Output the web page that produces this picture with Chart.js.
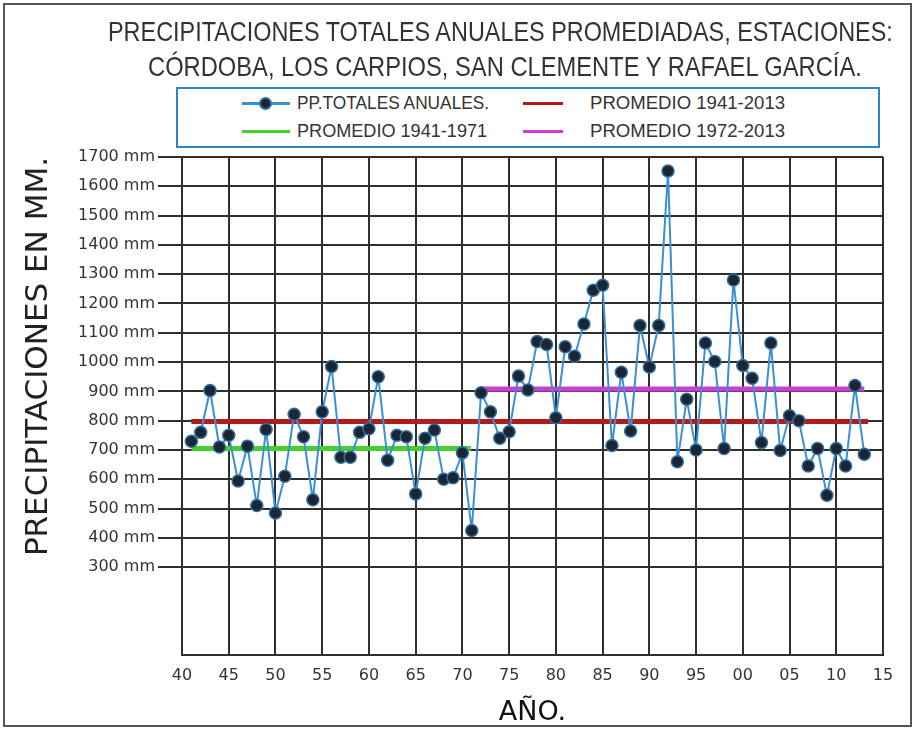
<!DOCTYPE html>
<html>
<head>
<meta charset="utf-8">
<script src="https://cdn.jsdelivr.net/npm/chart.js@4.4.1/dist/chart.umd.min.js"></script>
<style>
  html, body { margin: 0; padding: 0; background: #fff; }
  #wrap { position: relative; width: 915px; height: 729px; overflow: hidden; }
  #frame { position: absolute; left: 3px; top: 3px; width: 905px; height: 720px; border: 2px solid #555; }
  canvas { position: absolute; left: 0; top: 0; }
  .fit { position: absolute; white-space: nowrap; transform-origin: 0 50%; color: #333;
         font-family: "Liberation Sans", Arial, sans-serif; line-height: 1; }
  #legend { position: absolute; left: 176px; top: 87px; width: 700px; height: 57px;
            border: 2px solid #2f86c6; background: #fff; }
  .sw { position: absolute; height: 3px; }
  .dot { position: absolute; width: 9px; height: 9px; border-radius: 50%;
         background: #1b2632; border: 2px solid #2f6ea3; }
</style>
</head>
<body>
<div id="wrap">
  <div id="frame"></div>
  <canvas id="ppChart" width="915" height="729"></canvas>
  <div id="legend"></div>
</div>
<script>
// ── DATA ──
const years = [41, 42, 43, 44, 45, 46, 47, 48, 49, 50, 51, 52, 53, 54, 55, 56, 57, 58, 59, 60,
  61, 62, 63, 64, 65, 66, 67, 68, 69, 70, 71, 72, 73, 74, 75, 76, 77, 78, 79, 80,
  81, 82, 83, 84, 85, 86, 87, 88, 89, 90, 91, 92, 93, 94, 95, 96, 97, 98, 99, 100,
  101, 102, 103, 104, 105, 106, 107, 108, 109, 110, 111, 112, 113];
const precip = [730, 760, 903, 710, 750, 594, 713, 510, 770, 485, 610, 822, 745, 530, 830, 985, 675, 675, 760, 772,
  950, 665, 750, 745, 550, 740, 768, 600, 605, 690, 425, 895, 830, 740, 762, 952, 905, 1070, 1060, 810,
  1052, 1020, 1130, 1245, 1262, 715, 965, 765, 1125, 983, 1125, 1652, 660, 873, 700, 1065, 1002, 705, 1280, 988,
  945, 725, 1065, 698, 817, 800, 645, 705, 545, 705, 645, 920, 685];
const avgAll = 797;   // promedio 1941-2013
const avgEarly = 705; // promedio 1941-1971
const avgLate = 908;  // promedio 1972-2013
const xTickLabels = ['40', '45', '50', '55', '60', '65', '70', '75', '80', '85', '90', '95', '00', '05', '10', '15'];
const yTickValues = [300, 400, 500, 600, 700, 800, 900, 1000, 1100, 1200, 1300, 1400, 1500, 1600, 1700];

const wrap = document.getElementById('wrap');

// text squeezed to the width it has in the picture
function place(parent, text, left, cy, width, size, color) {
  const el = document.createElement('div');
  el.className = 'fit';
  el.textContent = text;
  el.style.fontSize = size + 'px';
  el.style.left = left + 'px';
  el.style.top = (cy - size / 2) + 'px';
  if (color) el.style.color = color;
  parent.appendChild(el);
  el.style.transform = 'scaleX(' + (width / el.offsetWidth) + ')';
}

place(wrap, 'PRECIPITACIONES TOTALES ANUALES PROMEDIADAS, ESTACIONES:', 108, 32, 785, 28, '#333');
place(wrap, 'CÓRDOBA, LOS CARPIOS, SAN CLEMENTE Y RAFAEL GARCÍA.', 148, 67, 714, 28, '#333');

// legend
const legend = document.getElementById('legend');
function swatch(left, width, cy, color) {
  const s = document.createElement('div');
  s.className = 'sw';
  s.style.left = left + 'px'; s.style.width = width + 'px';
  s.style.top = (cy - 1.5) + 'px'; s.style.background = color;
  legend.appendChild(s);
}
swatch(64, 48, 14, '#3b8fd4');
const dot = document.createElement('div');
dot.className = 'dot'; dot.style.left = '81px'; dot.style.top = '8px';
legend.appendChild(dot);
place(legend, 'PP.TOTALES ANUALES.', 119, 14, 192, 18);
swatch(345, 40, 14, '#b01c1c');
place(legend, 'PROMEDIO 1941-2013', 412, 14, 195, 18);
swatch(64, 48, 42, '#45d02e');
place(legend, 'PROMEDIO 1941-1971', 119, 42, 190, 18);
swatch(345, 40, 42, '#c93fcf');
place(legend, 'PROMEDIO 1972-2013', 412, 42, 195, 18);

// ── CHART ──
const seg = (v, a, b) => [{ x: a, y: v }, { x: b, y: v }];
const gridCol = '#2e2e2e';

new Chart(document.getElementById('ppChart').getContext('2d'), {
  type: 'line',
  data: {
    datasets: [
      {
        label: 'PP.TOTALES ANUALES.',
        data: years.map((yr, i) => ({ x: yr, y: precip[i] })),
        borderColor: '#3b8fd4',
        borderWidth: 2,
        pointRadius: 6,
        pointBackgroundColor: '#1b2632',
        pointBorderColor: '#2f6ea3',
        pointBorderWidth: 1.5,
        tension: 0,
      },
      { label: 'PROMEDIO 1941-2013', data: seg(avgAll, 41, 113.4), borderColor: '#b01c1c', borderWidth: 5, pointRadius: 0 },
      { label: 'PROMEDIO 1941-1971', data: seg(avgEarly, 41, 70.9), borderColor: '#45d02e', borderWidth: 5, pointRadius: 0 },
      { label: 'PROMEDIO 1972-2013', data: seg(avgLate, 72, 113), borderColor: '#c93fcf', borderWidth: 5, pointRadius: 0 },
    ],
  },
  options: {
    responsive: false,
    animation: false,
    layout: { padding: { top: 157, right: 32, left: 0, bottom: 0 } },
    plugins: { legend: { display: false }, tooltip: { enabled: false } },
    scales: {
      x: {
        type: 'linear',
        min: 40,
        max: 115,
        afterFit: s => { s.height = 74; },
        ticks: {
          stepSize: 5,
          autoSkip: false,
          maxRotation: 0,
          padding: 11,
          color: '#333',
          font: { family: 'DejaVu Sans', size: 16 },
          callback: (v, i) => xTickLabels[i],
        },
        grid: { color: gridCol, lineWidth: 2, drawTicks: false },
        border: { display: true, color: gridCol, width: 2 },
        title: { display: true, text: 'AÑO.', color: '#111', font: { family: 'DejaVu Sans', size: 27 }, padding: 0 },
      },
      y: {
        min: 0,
        max: 1700,
        afterFit: s => { s.width = 182; },
        afterBuildTicks: s => { s.ticks = [0, ...yTickValues].map(v => ({ value: v })); },
        ticks: {
          autoSkip: false,
          padding: 3,
          color: '#333',
          font: { family: 'DejaVu Sans', size: 16 },
          callback: v => (v === 0 ? '' : v + ' mm'),
        },
        grid: {
          color: gridCol,
          lineWidth: 2,
          tickLength: 24,
          tickColor: c => (c.tick && c.tick.value === 0 ? 'rgba(0,0,0,0)' : gridCol),
        },
        border: { display: true, color: gridCol, width: 2 },
        title: {
          display: true,
          text: 'PRECIPITACIONES EN MM.',
          align: 'end',
          color: '#222',
          font: { family: 'DejaVu Sans', size: 31 },
          padding: { top: 20 },
        },
      },
    },
  },
});
</script>
</body>
</html>
